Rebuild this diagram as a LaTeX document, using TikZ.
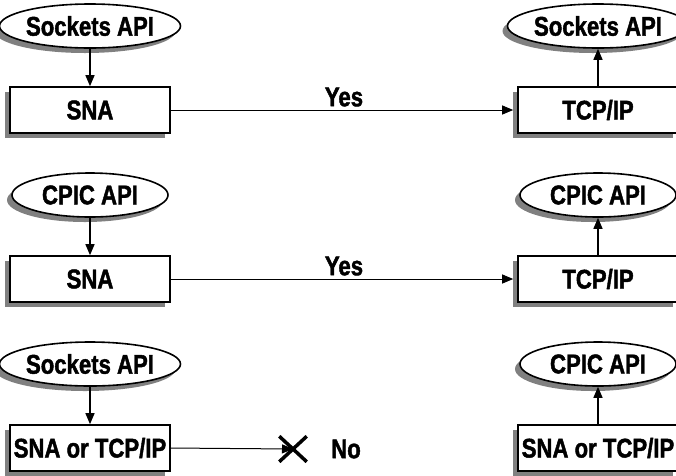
\documentclass[tikz,border=0pt]{standalone}
\usepackage{fontspec}
\newfontfamily\diagfont{Liberation Sans}[FakeStretch=0.82,FakeBold=1.6]
\usetikzlibrary{shapes.geometric,shapes.misc,shadows,arrows.meta}
\begin{document}
\begin{tikzpicture}[x=1pt,y=-1pt,
   font=\diagfont\bfseries\fontsize{27}{27}\selectfont,
   offset shadow/.style={drop shadow={shadow xshift=-5pt,shadow yshift=-5pt,fill=black!50,opacity=1}},
   api/.style={ellipse,draw,line width=1.6pt,fill=white,minimum width=156pt,minimum height=44pt,inner sep=0pt,offset shadow},
   layer/.style={rectangle,draw,line width=1.6pt,fill=white,minimum width=160pt,minimum height=46pt,inner sep=0pt,offset shadow},
   flow/.style={-{Triangle[length=11pt,width=9pt]},line width=1.3pt}]
   \useasboundingbox (0,0) rectangle (676,475);
   \clip (0,0) rectangle (676,475);
   % first row: Sockets over SNA to Sockets over TCP/IP
   \node [api] (sockL) at (90,26) {Sockets API};
   \node [layer] (snaA) at (90,110) {SNA};
   \node [api] (sockR) at (598,26) {Sockets API};
   \node [layer] (tcpA) at (598,110) {TCP/IP};
   \draw [flow] (sockL) -- (snaA);
   \draw [flow] (tcpA) -- (sockR);
   \draw [flow,line width=1pt,shorten >=4pt] (snaA) -- node [above,inner sep=3pt] (yesA) {Yes} (tcpA);
   % second row: CPIC over SNA to CPIC over TCP/IP
   \node [api] (cpicL) at (90,195) {CPIC API};
   \node [layer] (snaB) at (90,279) {SNA};
   \node [api] (cpicR) at (598,195) {CPIC API};
   \node [layer] (tcpB) at (598,279) {TCP/IP};
   \draw [flow] (cpicL) -- (snaB);
   \draw [flow] (tcpB) -- (cpicR);
   \draw [flow,line width=1pt,shorten >=4pt] (snaB) -- node [above,inner sep=3pt] (yesB) {Yes} (tcpB);
   % third row: Sockets to CPIC
   \node [api] (sockC) at (90,364) {Sockets API};
   \node [layer] (eitherL) at (90,448) {SNA or TCP/IP};
   \node [api] (cpicC) at (598,364) {CPIC API};
   \node [layer] (eitherR) at (598,448) {SNA or TCP/IP};
   \draw [flow] (sockC) -- (eitherL);
   \draw [flow] (eitherR) -- (cpicC);
   \node [cross out,draw,line width=3.5pt,minimum width=24pt,minimum height=22pt,inner sep=0pt] (stop) at (293,449) {};
   \draw [flow,line width=1pt] (eitherL.east) -- (stop.center);
   \node (no) at (346,449) {No};
\end{tikzpicture}
\end{document}
